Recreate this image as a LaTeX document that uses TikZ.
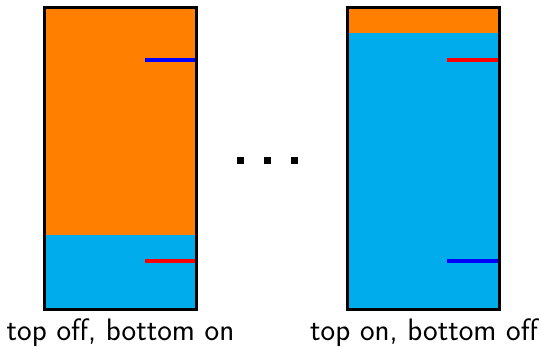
\documentclass[tikz,border=0pt]{standalone}
\definecolor{onorange}{RGB}{255,128,0}
\definecolor{offblue}{RGB}{0,172,236}
\tikzset{
  box/.style={draw=black,line width=3pt},
  mark line/.style={line width=3.5pt},
  lbl/.style={anchor=base,inner sep=0pt,font=\sffamily\fontsize{31}{36}\selectfont},
  dotsq/.style={fill=black}
}
\begin{document}
\begin{tikzpicture}[x=1pt,y=-1pt]
\useasboundingbox (0,0) rectangle (541,347);
% left column
\fill[onorange] (44.5,7.5) rectangle (196.5,235);
\fill[offblue] (44.5,235) rectangle (196.5,310);
\coordinate (l1a) at (145,60); \coordinate (l1b) at (196.5,60);
\coordinate (l2a) at (145,261); \coordinate (l2b) at (196.5,261);
\draw[mark line,blue] (l1a) -- (l1b);
\draw[mark line,red] (l2a) -- (l2b);
\draw[box] (44.5,7.5) rectangle (196.5,310);
% right column
\fill[onorange] (347,7.5) rectangle (499,33.5);
\fill[offblue] (347,33.5) rectangle (499,310);
\coordinate (r1a) at (447,60); \coordinate (r1b) at (499,60);
\coordinate (r2a) at (447,261); \coordinate (r2b) at (499,261);
\draw[mark line,red] (r1a) -- (r1b);
\draw[mark line,blue] (r2a) -- (r2b);
\draw[box] (347,7.5) rectangle (499,310);
% dots
\fill[dotsq] (236.5,157) rectangle (243.5,164);
\fill[dotsq] (263.5,157) rectangle (270.5,164);
\fill[dotsq] (290.5,157) rectangle (297.5,164);
% labels
\node[lbl] (lt) at (120.5,341) {top off, bottom on};
\node[lbl] (rt) at (424,341) {top on, bottom off};
\end{tikzpicture}
\end{document}
